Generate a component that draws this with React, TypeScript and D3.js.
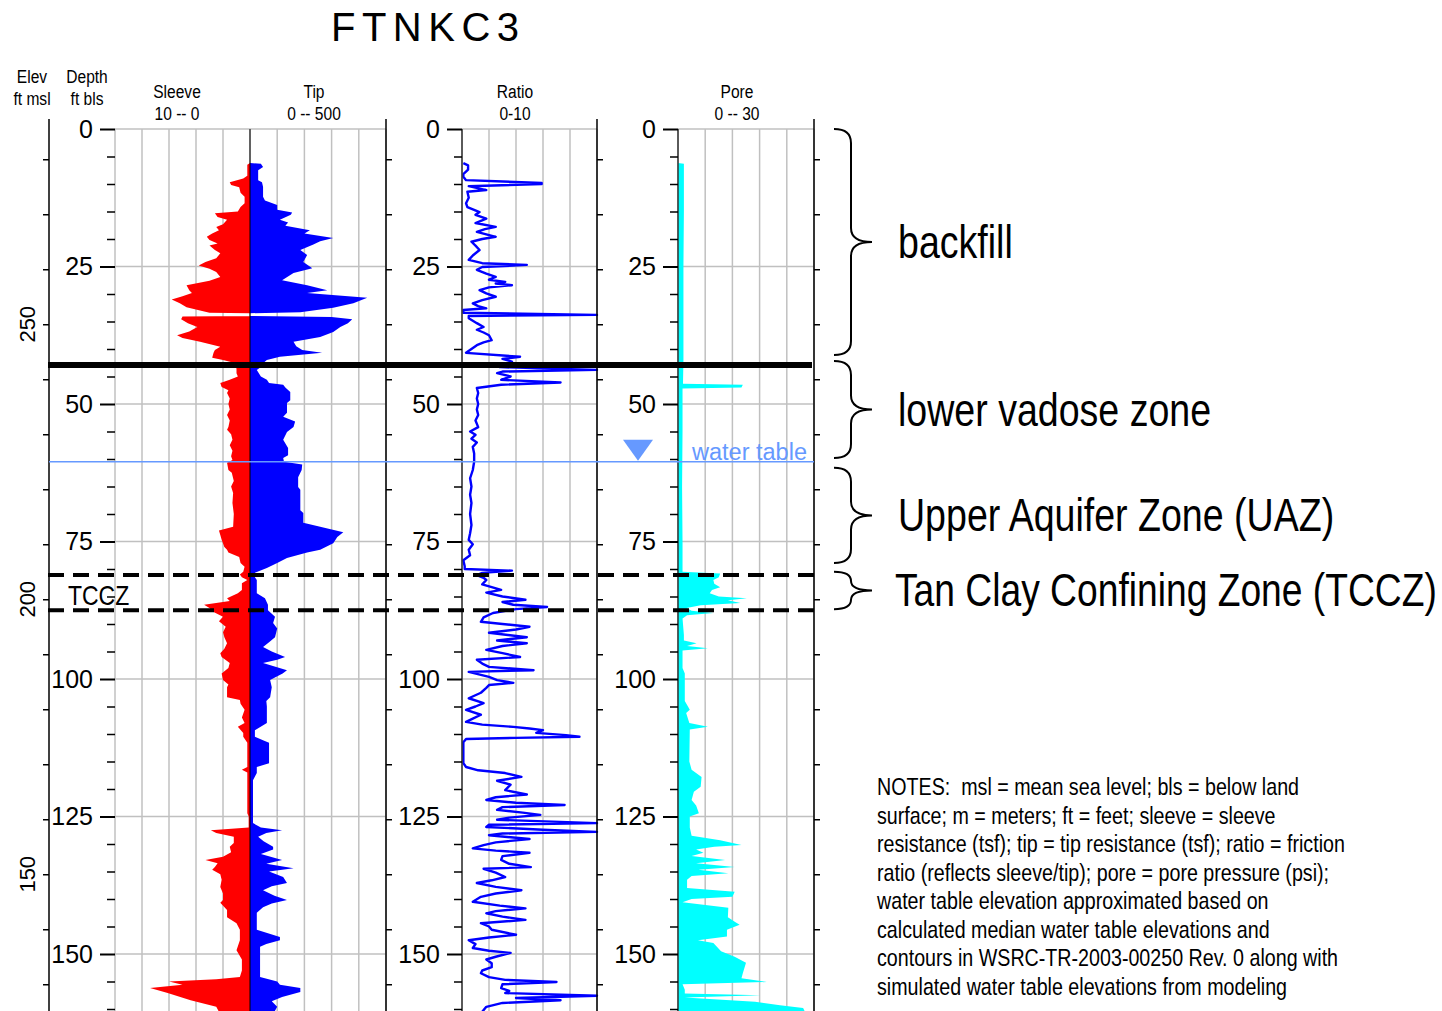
import React, { useEffect, useRef } from 'react'
import * as d3 from 'd3'

// CPT log FTNKC3 - sleeve / tip / ratio / pore vs depth

const W = 1442
const H = 1011

// [depth ft bls, sleeve tsf]
const sleeveData: [number, number][] = [
  [6.2, 0], [6.5, 0.2], [8.5, 0.2], [9.0, 0.5], [9.7, 1.5], [10.2, 1.4], [10.6, 0.8], [11.6, 0.7], [12.3, 0.4],
  [13.5, 0.4], [14.2, 0.7], [15.0, 0.9], [15.3, 2.6], [16.0, 2.4], [16.5, 1.7], [17.3, 2.0], [17.8, 2.5],
  [18.4, 2.3], [19.0, 2.8], [19.6, 3.2], [20.2, 3.0], [20.8, 2.4], [21.2, 3.0], [22.0, 2.6], [22.6, 2.2],
  [23.5, 2.5], [24.2, 3.3], [24.8, 3.8], [25.4, 3.0], [26.0, 2.5], [26.9, 2.2], [27.6, 3.0], [28.4, 4.7],
  [29.3, 4.5], [29.8, 4.3], [30.4, 5.0], [31.0, 5.8], [31.7, 5.2], [32.4, 4.7], [33.0, 3.7], [33.4, 3.0],
  [33.5, 0], [34.0, 0], [34.1, 5.0], [34.6, 5.1], [35.3, 4.6], [36.0, 3.9], [36.8, 4.5], [37.5, 5.4],
  [38.0, 5.0], [38.7, 3.7], [39.6, 2.2], [40.2, 2.6], [40.7, 2.7], [41.6, 2.8], [42.0, 2.0], [42.5, 1.2],
  [43.0, 1.7], [43.5, 1.0], [44.4, 1.0], [45.0, 0.9], [45.6, 1.5], [46.2, 2.2], [46.9, 2.1], [47.5, 1.6],
  [48.0, 1.7], [49.0, 1.5], [50.0, 1.6], [51.0, 1.5], [52.0, 1.7], [53.0, 1.5], [54.2, 1.6], [54.7, 1.7],
  [55.5, 1.4], [56.5, 1.3], [57.5, 1.5], [58.5, 1.3], [59.5, 1.4], [60.2, 1.3], [60.7, 1.7], [62.0, 1.6],
  [62.5, 1.35], [64.0, 1.2], [65.0, 1.4], [66.2, 1.25], [68.0, 1.3], [70.0, 1.2], [72.3, 1.25], [73.0, 2.3],
  [73.8, 2.2], [74.7, 2.1], [76.0, 1.9], [76.5, 1.7], [77.0, 1.6], [77.8, 0.8], [78.9, 0.7], [79.6, 0.4],
  [80.5, 0.5], [81.0, 0.75], [81.5, 0.6], [82.0, 0.2], [82.6, 0.6], [83.8, 0.6], [84.4, 0.9], [85.3, 1.7],
  [85.8, 1.5], [86.5, 3.4], [87.1, 3.0], [87.8, 2.7], [88.7, 2.0], [89.5, 2.3], [90.5, 1.8], [91.5, 2.0],
  [92.4, 1.9], [93.5, 1.7], [94.5, 1.9], [95.3, 2.2], [96.0, 2.1], [97.1, 1.5], [98.0, 1.6], [99.0, 2.1],
  [100.2, 2.0], [101.0, 1.6], [101.5, 1.7], [103.3, 1.7], [103.8, 0.75], [104.5, 0.7], [105.6, 0.4],
  [107.0, 0.6], [108.0, 0.4], [108.7, 0.9], [109.8, 0.5], [110.5, 0.5], [111.6, 0.2], [116.0, 0.2],
  [116.5, 0.6], [117.0, 0.2], [124.4, 0.2], [125.0, 0.1], [127.0, 0.1], [127.5, 2.9], [128.0, 2.5],
  [128.7, 1.2], [129.8, 1.2], [130.5, 1.5], [131.5, 1.4], [132.3, 2.0], [132.9, 3.3], [133.5, 2.4],
  [134.2, 2.6], [134.7, 2.8], [135.5, 2.2], [136.5, 2.1], [137.8, 2.2], [139.0, 2.0], [140.2, 2.0],
  [140.7, 2.2], [142.0, 1.7], [143.3, 1.7], [144.4, 1.0], [145.6, 0.75], [147.5, 0.75], [149.3, 1.0],
  [151.0, 0.6], [153.0, 0.6], [154.2, 0.75], [154.6, 2.5], [155.0, 6.0], [155.6, 5.0], [156.2, 7.4],
  [157.1, 6.1], [158.4, 4.4], [159.6, 2.5], [160.5, 2.3],
]

// [depth ft bls, tip tsf]
const tipData: [number, number][] = [
  [6.2, 0], [6.3, 40], [6.9, 48], [7.5, 30], [9.3, 30], [9.7, 44], [10.5, 48], [12.3, 48], [13.0, 55],
  [13.8, 100], [14.7, 100], [15.2, 155], [15.6, 150], [16.5, 110], [17.0, 140], [17.6, 130], [18.4, 220],
  [19.0, 200], [19.8, 306], [20.4, 258], [21.0, 233], [22.0, 185], [22.9, 210], [24.2, 196], [25.3, 229],
  [26.2, 160], [27.5, 118], [28.4, 210], [29.3, 284], [29.8, 210], [30.7, 431], [31.7, 380], [32.5, 306],
  [33.3, 185], [33.5, 0], [34.0, 0], [34.2, 300], [34.6, 376], [35.3, 360], [36.0, 332], [36.9, 306],
  [37.8, 258], [38.7, 160], [39.5, 170], [40.2, 192], [40.7, 265], [41.4, 110], [42.0, 62], [42.5, 50],
  [43.0, 48], [43.8, 25], [45.0, 40], [45.6, 62], [46.2, 70], [46.5, 122], [47.0, 130], [47.8, 148],
  [49.3, 148], [49.8, 136], [51.6, 136], [52.3, 122], [53.2, 166], [54.2, 160], [55.1, 136], [56.5, 122],
  [58.0, 140], [59.3, 140], [59.8, 122], [60.5, 125], [61.0, 192], [62.0, 190], [63.3, 177], [65.1, 177],
  [65.6, 185], [69.3, 185], [69.8, 196], [71.6, 196], [72.3, 258], [73.3, 343], [74.2, 321], [75.3, 306],
  [76.5, 258], [77.0, 210], [78.0, 136], [78.9, 100], [79.8, 62], [80.7, 18], [81.5, 18], [82.0, 25],
  [84.4, 25], [85.3, 55], [86.5, 66], [87.5, 66], [88.7, 92], [89.8, 85], [90.8, 100], [92.4, 92],
  [93.3, 70], [94.2, 48], [95.0, 80], [96.0, 129], [96.5, 100], [97.1, 48], [98.4, 136], [99.0, 120],
  [100.2, 74], [101.5, 80], [103.3, 74], [104.0, 60], [105.0, 62], [108.0, 62], [109.3, 18], [110.5, 18],
  [111.2, 50], [111.6, 70], [115.3, 70], [116.0, 25], [117.1, 25], [118.4, 11], [126.2, 11], [127.0, 40],
  [127.5, 118], [128.0, 60], [128.7, 30], [129.5, 50], [130.5, 85], [131.0, 85], [131.8, 40], [132.9, 118],
  [133.6, 60], [134.4, 160], [135.0, 70], [136.0, 122], [137.1, 136], [137.7, 80], [138.4, 48], [139.4, 90],
  [140.2, 136], [140.8, 80], [141.5, 48], [142.5, 25], [145.6, 25], [146.9, 110], [147.5, 110], [148.2, 60],
  [148.7, 37], [154.2, 37], [155.0, 100], [155.6, 110], [156.2, 185], [156.9, 185], [157.8, 118],
  [158.6, 80], [159.6, 100], [160.5, 90],
]

// [depth ft bls, friction ratio]
const ratioData: [number, number][] = [
  [6.2, 0.1], [6.6, 0.45], [7.4, 0.45], [8.2, 0.1], [8.7, 0.1], [9.3, 0.3], [9.8, 5.9], [10.0, 5.9],
  [10.4, 0.5], [11.1, 1.8], [11.4, 0.4], [12.5, 0.5], [13.5, 0.3], [14.2, 0.4], [15.1, 1.3], [15.6, 1.0],
  [16.3, 1.8], [17.1, 1.0], [17.8, 2.5], [18.2, 1.7], [18.7, 1.1], [19.6, 2.5], [20.0, 1.5], [20.5, 0.7],
  [21.2, 1.0], [22.0, 1.3], [23.0, 0.8], [23.8, 0.5], [24.4, 1.5], [24.7, 4.8], [25.1, 1.5], [25.6, 1.1],
  [26.3, 1.8], [26.9, 2.5], [27.4, 2.0], [27.8, 3.2], [28.1, 2.5], [28.4, 3.7], [28.8, 2.0], [29.3, 1.3],
  [29.9, 1.8], [30.5, 2.5], [31.1, 1.5], [31.7, 0.8], [32.2, 1.2], [32.6, 1.8], [32.9, 0.1], [33.4, 0.1],
  [33.8, 10], [34.0, 0.5], [34.4, 0.5], [35.3, 1.1], [36.0, 1.6], [36.5, 1.1], [37.0, 1.6], [37.5, 2.0],
  [38.4, 2.2], [38.8, 1.6], [39.3, 1.1], [40.0, 0.7], [40.7, 0.3], [41.4, 4.3], [41.8, 3.0], [42.3, 3.7],
  [42.8, 2.5], [43.3, 2.8], [43.8, 10], [44.1, 3.0], [44.4, 2.6], [45.0, 3.6], [45.6, 2.9], [46.1, 7.3],
  [46.5, 2.9], [47.1, 1.1], [48.0, 1.2], [49.0, 1.1], [50.0, 1.2], [51.0, 1.1], [52.0, 1.2], [53.0, 1.0],
  [54.2, 1.2], [55.0, 0.6], [55.6, 1.0], [56.3, 0.7], [57.0, 1.1], [57.8, 0.8], [59.0, 0.9], [60.5, 0.9],
  [62.0, 0.8], [63.5, 0.6], [65.0, 0.7], [66.5, 0.6], [68.0, 0.7], [70.0, 0.6], [72.0, 0.7], [73.5, 0.6],
  [74.7, 0.5], [75.5, 0.8], [76.5, 0.5], [77.5, 0.6], [78.4, 0.1], [79.5, 0.2], [80.0, 0.2], [80.3, 3.7],
  [80.7, 1.5], [81.1, 1.1], [81.6, 1.6], [82.0, 1.8], [82.8, 1.5], [83.3, 2.2], [83.8, 2.9], [84.3, 1.8],
  [85.0, 3.0], [85.6, 4.7], [86.0, 3.0], [86.5, 3.8], [86.9, 6.3], [87.3, 4.0], [88.0, 2.3], [88.8, 1.6],
  [89.6, 1.4], [90.0, 3.0], [90.5, 5.0], [91.0, 4.0], [91.6, 2.0], [92.4, 4.8], [93.0, 2.6], [93.5, 4.8],
  [94.0, 3.0], [94.7, 1.8], [95.3, 3.0], [96.0, 4.3], [96.5, 1.1], [97.2, 1.5], [97.8, 2.0], [98.4, 5.3],
  [98.7, 0.5], [99.6, 2.0], [100.2, 2.6], [100.7, 3.8], [101.1, 2.0], [101.6, 1.8], [102.5, 1.4],
  [103.5, 0.5], [104.4, 1.6], [105.0, 1.0], [105.6, 0.3], [106.5, 1.4], [107.2, 0.8], [107.8, 0.3],
  [108.3, 1.5], [108.7, 3.8], [109.0, 5.0], [109.3, 6.0], [109.8, 5.5], [110.2, 7.7], [110.5, 8.7],
  [110.7, 4.0], [110.9, 0.3], [111.5, 0.1], [115.3, 0.1], [116.0, 0.3], [116.6, 1.2], [117.1, 3.2],
  [117.8, 4.4], [118.5, 2.6], [119.2, 3.6], [120.2, 3.2], [121.0, 4.8], [121.5, 2.5], [122.0, 1.8],
  [122.5, 4.0], [122.9, 7.6], [123.3, 3.0], [123.8, 2.6], [124.3, 4.5], [124.7, 5.8], [125.2, 3.5],
  [125.6, 2.6], [126.2, 10], [126.5, 2.0], [126.9, 1.8], [127.4, 6.0], [127.8, 10], [128.1, 3.0],
  [128.4, 2.0], [129.1, 5.0], [129.7, 2.5], [130.2, 1.6], [130.8, 0.8], [131.2, 2.5], [131.6, 5.0],
  [132.2, 3.0], [132.9, 2.9], [133.6, 3.5], [134.2, 5.1], [134.5, 1.6], [135.2, 2.5], [136.0, 3.2],
  [136.6, 2.2], [137.1, 1.1], [137.8, 2.5], [138.4, 4.4], [139.0, 2.5], [139.6, 1.4], [140.5, 0.8],
  [141.2, 2.8], [141.7, 4.7], [142.2, 2.5], [142.6, 1.8], [143.2, 3.0], [143.8, 4.7], [144.4, 1.4],
  [145.0, 2.0], [145.6, 2.2], [146.5, 4.0], [147.0, 2.0], [147.5, 0.5], [148.2, 1.0], [148.9, 0.8],
  [149.4, 2.0], [149.8, 3.6], [150.5, 2.5], [151.0, 1.8], [151.7, 2.2], [152.4, 2.2], [153.0, 1.5],
  [153.5, 1.4], [154.2, 2.0], [154.7, 3.2], [155.1, 7.0], [155.5, 3.0], [156.2, 2.9], [156.7, 3.5],
  [157.1, 3.2], [157.6, 10], [158.0, 4.0], [158.4, 7.3], [158.9, 3.0], [159.6, 1.8], [160.5, 1.5],
]

// [depth ft bls, pore pressure psi]
const poreData: [number, number][] = [
  [6.2, 0], [6.3, 1.3], [15, 1.3], [25, 1.2], [35, 1.2], [42, 1.2], [46.3, 1.1], [46.5, 14.3], [47.0, 14.0],
  [47.2, 1.0], [55, 1.0], [65, 0.9], [75, 1.0], [80.5, 1.0], [80.8, 9.3], [81.5, 9.0], [82.0, 7.8],
  [82.7, 8.0], [83.3, 9.3], [83.8, 7.5], [84.4, 7.0], [85.0, 9.0], [85.3, 15.2], [85.7, 11], [86.2, 13.8],
  [86.6, 5.0], [87.1, 1.9], [87.6, 3.0], [88.0, 7.8], [88.4, 2.0], [89.0, 1.0], [92.0, 1.3], [93.0, 1.3],
  [93.5, 4.1], [94.0, 2.0], [94.4, 6.6], [94.8, 1.0], [98, 1.0], [99, 1.5], [104, 1.5], [105, 2.2],
  [105.6, 2.6], [106.2, 1.8], [108.0, 2.5], [108.7, 6.6], [109.2, 2.6], [115, 2.5], [116.5, 3.0],
  [117.8, 5.2], [119.6, 5.0], [120.5, 3.5], [122, 3.0], [123, 4.0], [124.4, 4.6], [125, 2.6], [127, 2.6],
  [128.5, 3.0], [129.3, 9.3], [130.2, 14.0], [130.5, 8.0], [131, 4.0], [131.6, 5.6], [132.2, 3.0],
  [132.9, 10.4], [133.5, 4.0], [134.2, 12.5], [134.7, 4.5], [135.3, 11.1], [135.8, 3.0], [136.5, 2.0],
  [138.0, 2.0], [138.7, 12.5], [139.6, 12.0], [140.0, 3.0], [140.6, 1.0], [141.6, 11.1], [143.3, 11.0],
  [144.2, 12.6], [144.7, 13.6], [145.6, 10.8], [146.8, 10.8], [147.5, 4.4], [148.0, 7.8], [149.5, 9.5],
  [150.5, 12.5], [151.6, 15.0], [153.5, 14.3], [154.4, 14.0], [155.1, 19.6], [155.5, 1.0], [156.5, 1.5],
  [157.2, 1.5], [157.5, 18.3], [157.9, 1.5], [158.7, 17.0], [159.3, 22.5], [159.8, 27.6], [160.5, 28],
]

const depthMajor = [0, 25, 50, 75, 100, 125, 150]
const elevLabels = [250, 200, 150]
const groundElev = 285.5

const headerTitles = ['Sleeve', 'Tip', 'Ratio', 'Pore']
const headerRanges = ['10 -- 0', '0 -- 500', '0-10', '0 -- 30']

const zoneLabels = ['backfill', 'lower vadose zone', 'Upper Aquifer Zone (UAZ)', 'Tan Clay Confining Zone (TCCZ)']
const zoneTop = [0, 42.2, 61.6, 80.5]
const zoneBottom = [41.1, 59.8, 78.9, 87.3]

const contactDepth = 42.9
const tcczTop = 81.1
const tcczBottom = 87.5
const waterTableDepth = 60.5

const notes = [
  'NOTES:  msl = mean sea level; bls = below land',
  'surface; m = meters; ft = feet; sleeve = sleeve',
  'resistance (tsf); tip = tip resistance (tsf); ratio = friction',
  'ratio (reflects sleeve/tip); pore = pore pressure (psi);',
  'water table elevation approximated based on',
  'calculated median water table elevations and',
  'contours in WSRC-TR-2003-00250 Rev. 0 along with',
  'simulated water table elevations from modeling',
]

const SANS = "'Liberation Sans', Arial, sans-serif"
const NARROW_SCALE = 0.82 // Arial Narrow is Arial squeezed to 82%
const GRID = '#c0c0c0'
const WT = '#6699ff'

export default function App() {
  const ref = useRef<SVGSVGElement | null>(null)

  useEffect(() => {
    const svg = d3.select(ref.current)
    svg.selectAll('*').remove()

    // narrow text: Liberation Sans squeezed horizontally
    const narrow = (x: number, yy: number, str: string, size: number, anchor = 'start') =>
      svg.append('text')
        .attr('transform', `translate(${x},${yy}) scale(${NARROW_SCALE},1)`)
        .attr('text-anchor', anchor)
        .style('font-family', SANS).style('font-size', size + 'px')
        .style('white-space', 'pre')
        .text(str)

    const y = d3.scaleLinear().domain([0, 160]).range([129, 1009])
    const yElev = d3.scaleLinear().domain([groundElev, groundElev - 160]).range([129, 1009])
    const sleeveX = d3.scaleLinear().domain([0, 10]).range([250, 115])
    const tipX = d3.scaleLinear().domain([0, 500]).range([250, 386])
    const ratioX = d3.scaleLinear().domain([0, 10]).range([462, 597])
    const poreX = d3.scaleLinear().domain([0, 30]).range([678, 814])

    const defs = svg.append('defs')
    const clip = (id: string, x0: number, x1: number) =>
      defs.append('clipPath').attr('id', id).append('rect')
        .attr('x', x0).attr('y', 129).attr('width', x1 - x0).attr('height', H - 129)
    clip('c1', 115, 386)
    clip('c2', 462, 599)
    clip('c3', 678, 814)

    // grid
    const grid = svg.append('g').attr('stroke', GRID).attr('stroke-width', 1.5)
    const vgrid = [
      ...sleeveX.ticks(5).map((v) => sleeveX(v)),
      ...tipX.ticks(5).map((v) => tipX(v)),
      ...ratioX.ticks(5).map((v) => ratioX(v)),
      ...d3.range(0, 31, 6).map((v) => poreX(v)),
    ]
    vgrid.forEach((x) => {
      grid.append('line').attr('x1', x).attr('x2', x).attr('y1', 129).attr('y2', H)
    })
    const panelsX: [number, number][] = [[115, 386], [462, 597], [678, 814]]
    panelsX.forEach(([a, b]) => {
      depthMajor.forEach((d) => {
        grid.append('line').attr('x1', a).attr('x2', b).attr('y1', y(d)).attr('y2', y(d))
      })
    })

    // sleeve + tip
    const g1 = svg.append('g').attr('clip-path', 'url(#c1)')
    g1.append('path').datum(sleeveData)
      .attr('fill', '#ff0000')
      .attr('d', d3.area<[number, number]>().y((d) => y(d[0])).x0(sleeveX(0)).x1((d) => sleeveX(d[1])))
    g1.append('path').datum(tipData)
      .attr('fill', '#0000ff')
      .attr('d', d3.area<[number, number]>().y((d) => y(d[0])).x0(tipX(0)).x1((d) => tipX(d[1])))
    svg.append('line').attr('x1', 250).attr('x2', 250).attr('y1', 129).attr('y2', H)
      .attr('stroke', '#000').attr('stroke-width', 1)

    // ratio
    svg.append('g').attr('clip-path', 'url(#c2)')
      .append('path').datum(ratioData)
      .attr('fill', 'none').attr('stroke', '#0000ff').attr('stroke-width', 2.4)
      .attr('stroke-linejoin', 'round')
      .attr('d', d3.line<[number, number]>().x((d) => ratioX(d[1])).y((d) => y(d[0])))

    // pore
    svg.append('g').attr('clip-path', 'url(#c3)')
      .append('path').datum(poreData)
      .attr('fill', '#00ffff')
      .attr('d', d3.area<[number, number]>().y((d) => y(d[0])).x0(poreX(0)).x1((d) => poreX(d[1])))

    // panel borders
    const border = (x: number, y0: number, color: string, w: number) =>
      svg.append('line').attr('x1', x).attr('x2', x).attr('y1', y0).attr('y2', H)
        .attr('stroke', color).attr('stroke-width', w)
    border(462, 129, '#333', 1.5)
    border(678, 129, '#333', 1.5)
    border(49, 119, '#000', 1.5)
    border(386, 119, '#000', 1.5)
    border(597, 119, '#000', 1.5)
    border(814, 119, '#000', 1.5)

    // elevation ticks
    const elevTicks = d3.range(280, 120, -10)
    const elevLeft = svg.append('g').attr('transform', 'translate(49,0)')
      .call(d3.axisLeft(yElev).tickValues(elevTicks).tickSize(6).tickFormat(() => ''))
    elevLeft.select('.domain').remove()
    ;[386, 597, 814].forEach((x) => {
      const g = svg.append('g').attr('transform', `translate(${x},0)`)
        .call(d3.axisRight(yElev).tickValues(elevTicks).tickSize(6).tickFormat(() => ''))
      g.select('.domain').remove()
    })
    svg.selectAll('.tick line').attr('stroke', '#000').attr('stroke-width', 1.5)
    elevLabels.forEach((v) => {
      svg.append('text')
        .attr('transform', `translate(27,${yElev(v)}) rotate(-90)`)
        .attr('text-anchor', 'middle').attr('dy', '0.36em')
        .style('font-family', SANS).style('font-size', '22px')
        .text(String(v))
    })

    // depth axes
    const minor = d3.range(5, 161, 5).filter((d) => d % 25 !== 0)
    ;[115, 462, 678].forEach((x) => {
      const gm = svg.append('g').attr('transform', `translate(${x},0)`)
        .call(d3.axisLeft(y).tickValues(minor).tickSize(8).tickFormat(() => ''))
      gm.select('.domain').remove()
      gm.selectAll('.tick line').attr('stroke', '#000').attr('stroke-width', 1.5)
      const gM = svg.append('g').attr('transform', `translate(${x},0)`)
        .call(d3.axisLeft(y).tickValues(depthMajor).tickSize(15).tickPadding(7))
      gM.select('.domain').remove()
      gM.selectAll('.tick line').attr('stroke', '#000').attr('stroke-width', 2)
      gM.selectAll('.tick text').attr('fill', '#000')
        .style('font-family', SANS).style('font-size', '25px')
    })

    // contacts / water table
    svg.append('line').attr('x1', 49).attr('x2', 814).attr('y1', y(waterTableDepth)).attr('y2', y(waterTableDepth))
      .attr('stroke', WT).attr('stroke-width', 1.5)
    const wy = y(waterTableDepth)
    svg.append('path').attr('d', `M623,${wy - 22}L653,${wy - 22}L638,${wy - 1}Z`).attr('fill', WT)
    svg.append('text').attr('x', 692).attr('y', wy - 2)
      .style('font-family', SANS).style('font-size', '23.5px').attr('fill', WT)
      .text('water table')

    svg.append('line').attr('x1', 48).attr('x2', 812).attr('y1', y(contactDepth)).attr('y2', y(contactDepth))
      .attr('stroke', '#000').attr('stroke-width', 6)
    ;[tcczTop, tcczBottom].forEach((d) => {
      svg.append('line').attr('x1', 48).attr('x2', 814).attr('y1', y(d)).attr('y2', y(d))
        .attr('stroke', '#000').attr('stroke-width', 4).attr('stroke-dasharray', '16,9')
    })
    narrow(68, y(tcczBottom) - 5, 'TCCZ', 28)

    // headers
    const hx = [177, 314, 515, 737]
    headerTitles.forEach((t, i) => {
      narrow(hx[i], 98, t, 19, 'middle')
      narrow(hx[i], 120, headerRanges[i], 19, 'middle')
    })
    narrow(32, 83, 'Elev', 19, 'middle')
    narrow(32, 105, 'ft msl', 19, 'middle')
    narrow(87, 83, 'Depth', 19, 'middle')
    narrow(87, 105, 'ft bls', 19, 'middle')

    svg.append('text').attr('x', 331).attr('y', 41)
      .style('font-family', SANS).style('font-size', '40px').style('letter-spacing', '6.5px')
      .text('FTNKC3')

    // zone braces
    zoneLabels.forEach((label, i) => {
      const y0 = y(zoneTop[i])
      const y1 = y(zoneBottom[i])
      const ym = (y0 + y1) / 2
      const xl = 834
      const xm = 851
      const xt = 872
      const r = Math.min(14, (y1 - y0) / 4)
      svg.append('path')
        .attr('d', `M${xl},${y0} Q${xm},${y0} ${xm},${y0 + r} L${xm},${ym - r} Q${xm},${ym} ${xt},${ym}` +
          ` Q${xm},${ym} ${xm},${ym + r} L${xm},${y1 - r} Q${xm},${y1} ${xl},${y1}`)
        .attr('fill', 'none').attr('stroke', '#000').attr('stroke-width', 2)
      narrow(i === 3 ? 895 : 898, ym + 16, label, i === 3 ? 45.4 : 45.8)
    })

    // notes
    notes.forEach((line, i) => {
      narrow(877, 795 + i * 28.57, line, 24)
    })
  }, [])

  return (
    <svg
      ref={ref}
      width={W}
      height={H}
      style={{ position: 'absolute', left: 0, top: 0, display: 'block', background: '#fff' }}
    />
  )
}
